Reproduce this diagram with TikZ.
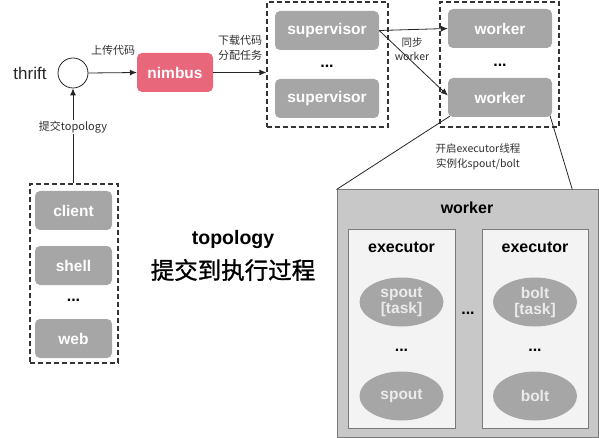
\documentclass[tikz,border=0pt]{standalone}
\usepackage{fontspec}
\setmainfont{Liberation Sans}
\newfontfamily\cjk{Noto Sans CJK SC}
\newfontfamily\cjkb{Noto Sans CJK SC}[FakeBold=1.2]
\usetikzlibrary{arrows.meta,calc,shapes.geometric}
\definecolor{nodegray}{HTML}{A6A6A6}
\definecolor{nimbusred}{HTML}{E8677A}
\definecolor{bigfill}{HTML}{C8C8C8}
\definecolor{bigborder}{HTML}{7A7A7A}
\definecolor{execfill}{HTML}{F3F3F3}
\definecolor{labeltext}{HTML}{303030}
\tikzset{
  graybox/.style={draw=none, fill=nodegray, rounded corners=5pt, text=white,
    font=\fontsize{15.5}{18}\selectfont\bfseries, minimum width=104pt, minimum height=39pt, inner sep=0pt},
  dashbox/.style={draw=black!80, line width=1.2pt, dash pattern=on 5pt off 3pt, inner sep=0pt},
  conn/.style={draw=black!85, line width=0.8pt},
  arr/.style={conn, -{Latex[length=7pt,width=6pt]}},
  smalllabel/.style={font=\cjk\fontsize{11}{15}\selectfont, text=labeltext, align=center, inner sep=1pt},
  dots/.style={font=\fontsize{16}{16}\selectfont\bfseries},
  ellnode/.style={ellipse, fill=nodegray, text=white!92!black, minimum width=84pt, minimum height=49pt,
    inner sep=0pt, align=center, font=\fontsize{15.5}{18}\selectfont\bfseries},
}
\begin{document}
\begin{tikzpicture}[x=1pt,y=-1pt]
\useasboundingbox (0,0) rectangle (599,438);
% left area
\node[font=\fontsize{17}{20}\selectfont, text=black!85] (thrift) at (30,73) {thrift};
\node[circle, draw=black!85, line width=0.8pt, minimum size=30pt, inner sep=0pt, fill=white] (c) at (73,73) {};
\node[graybox, fill=nimbusred, minimum width=76pt] (nimbus) at (175,72.5) {nimbus};

% client box
\node[dashbox, minimum width=88pt, minimum height=179pt] (clientbox) at (74,273.5) {};
\node[graybox, minimum width=77pt] (client) at (73.5,210.5) {client};
\node[graybox, minimum width=77pt] (shell) at (73.5,265.5) {shell};
\node[dots] (cdots) at (73.5,300) {...};
\node[graybox, minimum width=77pt] (web) at (73.5,338.5) {web};

% supervisors
\node[dashbox, minimum width=121pt, minimum height=125pt] (supbox) at (327.5,64.5) {};
\node[graybox] (sup1) at (327,30.5) {supervisor};
\node[dots] (sdots) at (327,66) {...};
\node[graybox] (sup2) at (327,98.5) {supervisor};

% workers
\node[dashbox, minimum width=119pt, minimum height=125pt] (wkbox) at (499.5,64.5) {};
\node[graybox] (wk1) at (500,28.5) {worker};
\node[dots] (wdots) at (500,65) {...};
\node[graybox] (wk2) at (500,97.5) {worker};

% title
\node[font=\fontsize{19.5}{22}\selectfont\bfseries] (title1) at (233,240) {topology};
\node[font=\cjkb\fontsize{23.5}{26}\selectfont] (title2) at (233,270) {提交到执行过程};

% big worker
\node[draw=bigborder, fill=bigfill, line width=1pt, minimum width=261pt, minimum height=247pt, inner sep=0pt] (big) at (467.5,313.5) {};
\node[font=\fontsize{16}{18}\selectfont\bfseries] (bigtitle) at (467,208) {worker};
\node[draw=bigborder, fill=execfill, line width=0.8pt, minimum width=107pt, minimum height=199pt, inner sep=0pt] (ex1) at (401.5,328.5) {};
\node[draw=bigborder, fill=execfill, line width=0.8pt, minimum width=106pt, minimum height=199pt, inner sep=0pt] (ex2) at (535,328.5) {};
\node[font=\fontsize{16}{18}\selectfont\bfseries] (ex1t) at (401.5,247) {executor};
\node[font=\fontsize{16}{18}\selectfont\bfseries] (ex2t) at (535,247) {executor};
\node[ellnode] (sp1) at (401.5,302) {spout\\[-2pt][task]};
\node[dots] (spdots) at (401.5,350) {...};
\node[ellnode] (sp2) at (401.5,396) {spout};
\node[ellnode] (bo1) at (535,302) {bolt\\[-2pt][task]};
\node[dots] (bodots) at (535,350) {...};
\node[ellnode] (bo2) at (535,396) {bolt};
\node[dots] (exdots) at (468,313) {...};

% connectors
\draw[arr] (c.east) -- (nimbus.west);
\node[smalllabel] (l1) at (113,50) {上传代码};
\draw[arr] (nimbus.east) -- (nimbus.east -| supbox.west);
\node[smalllabel] (l2) at (240,48) {下载代码\\分配任务};
\draw[arr] (clientbox.north -| c.south) -- (c.south);
\node[smalllabel, fill=white] (l3) at (73,127) {提交topology};
\draw[arr] (sup1.east) -- (wk1.west);
\draw[arr] (sup1.east) -- ($(wk2.north west)!0.45!(wk2.south west)$);
\node[smalllabel, font=\cjk\fontsize{10.5}{14}\selectfont] (l4) at (412,49) {同步\\worker};
\coordinate (bigR) at ($(big.north west)!0.9!(big.north east)$);
\draw[conn] ($(wk2.south west)+(2,-1)$) -- (big.north west);
\draw[conn] ($(wk2.south east)+(-2,-1)$) -- (bigR);
\node[smalllabel, font=\cjk\fontsize{10.5}{15}\selectfont] (l5) at (478,157) {开启executor线程\\实例化spout/bolt};
\end{tikzpicture}
\end{document}
